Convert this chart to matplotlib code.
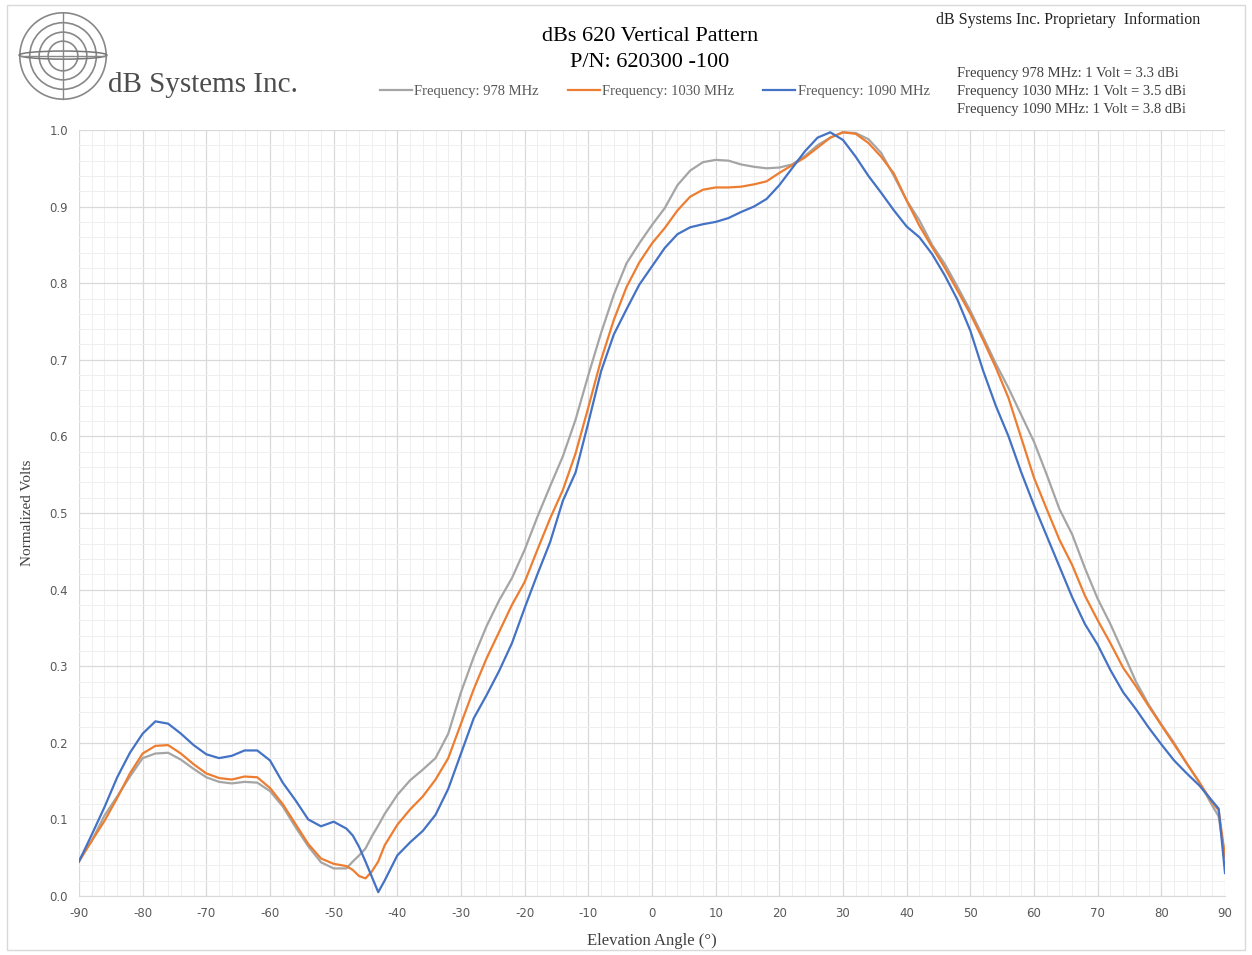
import matplotlib.pyplot as plt
from matplotlib.patches import Circle, Ellipse, Rectangle
from matplotlib.ticker import MultipleLocator

angles = [-90, -88, -86, -84, -82, -80, -78, -76, -74, -72, -70, -68, -66, -64, -62, -60,
          -58, -56, -54, -52, -50, -48, -47, -46, -45, -44, -43, -42, -40, -38, -36, -34,
          -32, -30, -28, -26, -24, -22, -20, -18, -16, -14, -12, -10, -8, -6, -4, -2,
          0, 2, 4, 6, 8, 10, 12, 14, 16, 18, 20, 22, 24, 26, 28, 30,
          32, 34, 36, 38, 40, 42, 44, 46, 48, 50, 52, 54, 56, 58, 60, 62,
          64, 66, 68, 70, 72, 74, 76, 78, 80, 82, 84, 86, 88, 89, 90]

f978 = [0.047, 0.072, 0.105, 0.130, 0.156, 0.180, 0.186, 0.187, 0.178, 0.166, 0.155, 0.149, 0.147, 0.149, 0.148, 0.137,
        0.117, 0.090, 0.065, 0.044, 0.036, 0.036, 0.045, 0.053, 0.062, 0.078, 0.092, 0.107, 0.132, 0.151, 0.165, 0.180,
        0.212, 0.266, 0.312, 0.352, 0.386, 0.415, 0.452, 0.495, 0.535, 0.574, 0.622, 0.680, 0.735, 0.785, 0.826, 0.852,
        0.876, 0.898, 0.928, 0.947, 0.958, 0.961, 0.960, 0.955, 0.952, 0.950, 0.951, 0.955, 0.966, 0.980, 0.990, 0.997,
        0.996, 0.988, 0.970, 0.940, 0.908, 0.882, 0.850, 0.825, 0.795, 0.764, 0.730, 0.695, 0.663, 0.628, 0.593, 0.550,
        0.505, 0.472, 0.428, 0.388, 0.355, 0.318, 0.280, 0.250, 0.224, 0.200, 0.173, 0.148, 0.118, 0.104, 0.050]

f1030 = [0.045, 0.072, 0.098, 0.128, 0.160, 0.186, 0.196, 0.197, 0.186, 0.172, 0.160, 0.154, 0.152, 0.156, 0.155, 0.141,
         0.120, 0.094, 0.068, 0.049, 0.042, 0.039, 0.034, 0.026, 0.023, 0.032, 0.045, 0.066, 0.093, 0.113, 0.130, 0.152,
         0.180, 0.225, 0.270, 0.310, 0.345, 0.380, 0.410, 0.452, 0.493, 0.530, 0.578, 0.638, 0.700, 0.752, 0.795, 0.827,
         0.852, 0.872, 0.895, 0.913, 0.922, 0.925, 0.925, 0.926, 0.929, 0.933, 0.944, 0.954, 0.964, 0.977, 0.990, 0.997,
         0.995, 0.983, 0.965, 0.943, 0.908, 0.875, 0.847, 0.820, 0.790, 0.760, 0.726, 0.690, 0.650, 0.598, 0.546, 0.505,
         0.465, 0.432, 0.392, 0.360, 0.330, 0.298, 0.274, 0.248, 0.223, 0.198, 0.173, 0.148, 0.122, 0.112, 0.052]

f1090 = [0.045, 0.080, 0.116, 0.155, 0.187, 0.212, 0.228, 0.225, 0.212, 0.197, 0.185, 0.180, 0.183, 0.190, 0.190, 0.177,
         0.148, 0.125, 0.100, 0.091, 0.097, 0.088, 0.079, 0.064, 0.045, 0.025, 0.005, 0.020, 0.053, 0.070, 0.085, 0.106,
         0.140, 0.186, 0.232, 0.262, 0.294, 0.330, 0.376, 0.420, 0.462, 0.516, 0.553, 0.618, 0.685, 0.733, 0.766, 0.798,
         0.822, 0.846, 0.864, 0.873, 0.877, 0.880, 0.885, 0.893, 0.900, 0.910, 0.928, 0.950, 0.972, 0.990, 0.997, 0.987,
         0.965, 0.940, 0.918, 0.895, 0.874, 0.860, 0.838, 0.810, 0.778, 0.738, 0.686, 0.640, 0.600, 0.553, 0.510, 0.470,
         0.430, 0.390, 0.355, 0.328, 0.295, 0.266, 0.244, 0.220, 0.198, 0.177, 0.160, 0.144, 0.124, 0.114, 0.030]

labels = ["Frequency: 978 MHz", "Frequency: 1030 MHz", "Frequency: 1090 MHz"]
colors = ["#A5A5A5", "#ED7D31", "#4472C4"]
gain_notes = ["Frequency 978 MHz: 1 Volt = 3.3 dBi",
              "Frequency 1030 MHz: 1 Volt = 3.5 dBi",
              "Frequency 1090 MHz: 1 Volt = 3.8 dBi"]

serif = "Liberation Serif"
plt.rcParams["axes.unicode_minus"] = False

fig = plt.figure(figsize=(12.52, 9.55), dpi=100)
fig.patches.append(Rectangle((7 / 1252, 5 / 955), 1238 / 1252, 945 / 955, transform=fig.transFigure,
                             fill=False, edgecolor="#d9d9d9", linewidth=1))

ax = fig.add_axes([79 / 1252, 59 / 955, 1146 / 1252, 766 / 955])
for ys, lab, c in zip([f978, f1030, f1090], labels, colors):
    ax.plot(angles, ys, color=c, linewidth=1.6, label=lab)

ax.set_xlim(-90, 90)
ax.set_ylim(0, 1.0)
ax.xaxis.set_major_locator(MultipleLocator(10))
ax.xaxis.set_minor_locator(MultipleLocator(2))
ax.yaxis.set_major_locator(MultipleLocator(0.1))
ax.yaxis.set_minor_locator(MultipleLocator(0.02))
ax.yaxis.set_major_formatter(plt.FuncFormatter(lambda v, p: f"{v:.1f}"))
ax.grid(which="major", color="#d9d9d9", linewidth=0.9)
ax.grid(which="minor", color="#efefef", linewidth=0.7)
ax.set_axisbelow(True)
for s in ["top", "right", "left"]:
    ax.spines[s].set_visible(False)
ax.spines["bottom"].set_color("#d9d9d9")
ax.tick_params(which="both", length=0, colors="#595959", labelsize=8.5, pad=8)

ax.set_xlabel("Elevation Angle (°)", family=serif, fontsize=12, color="#404040", labelpad=9)
ax.set_ylabel("Normalized Volts", family=serif, fontsize=11, color="#404040", labelpad=11)

fig.text(0.519, 0.962, "dBs 620 Vertical Pattern", family=serif, fontsize=16, ha="center", va="center")
fig.text(0.519, 0.935, "P/N: 620300 -100", family=serif, fontsize=16, ha="center", va="center")

fig.legend(loc="center", bbox_to_anchor=(0.523, 0.904), ncol=3, frameon=False,
           prop={"family": serif, "size": 10.5}, handlelength=2.2, handletextpad=0.15,
           columnspacing=2.0, labelcolor="#595959")

fig.text(0.959, 0.979, "dB Systems Inc. Proprietary  Information", family=serif, fontsize=11.5,
         ha="right", va="center", color="#222222")
for i, note in enumerate(gain_notes):
    fig.text(0.764, 0.923 - i * 0.0188, note, family=serif, fontsize=10.5, ha="left", va="center",
             color="#404040")

# company logo
fig.text(108 / 1252, 1 - 85 / 955, "dB Systems Inc.", family=serif, fontsize=21, ha="left",
         va="center", color="#4d4d4d")
lax = fig.add_axes([18 / 1252, 1 - 101 / 955, 90 / 1252, 90 / 955])
lax.set_xlim(-1, 1)
lax.set_ylim(-1, 1)
lax.set_aspect("equal")
lax.axis("off")
for r in [0.96, 0.74, 0.53, 0.33]:
    lax.add_patch(Circle((0, 0), r, fill=False, edgecolor="#888888", linewidth=1.2))
lax.plot([0, 0], [-0.96, 0.96], color="#888888", linewidth=1)
lax.plot([-0.96, 0.96], [0, 0], color="#888888", linewidth=1)
lax.add_patch(Ellipse((0, 0.02), 1.95, 0.18, fill=False, edgecolor="#777777", linewidth=1.1))

fig.savefig("out.png", dpi=100)
